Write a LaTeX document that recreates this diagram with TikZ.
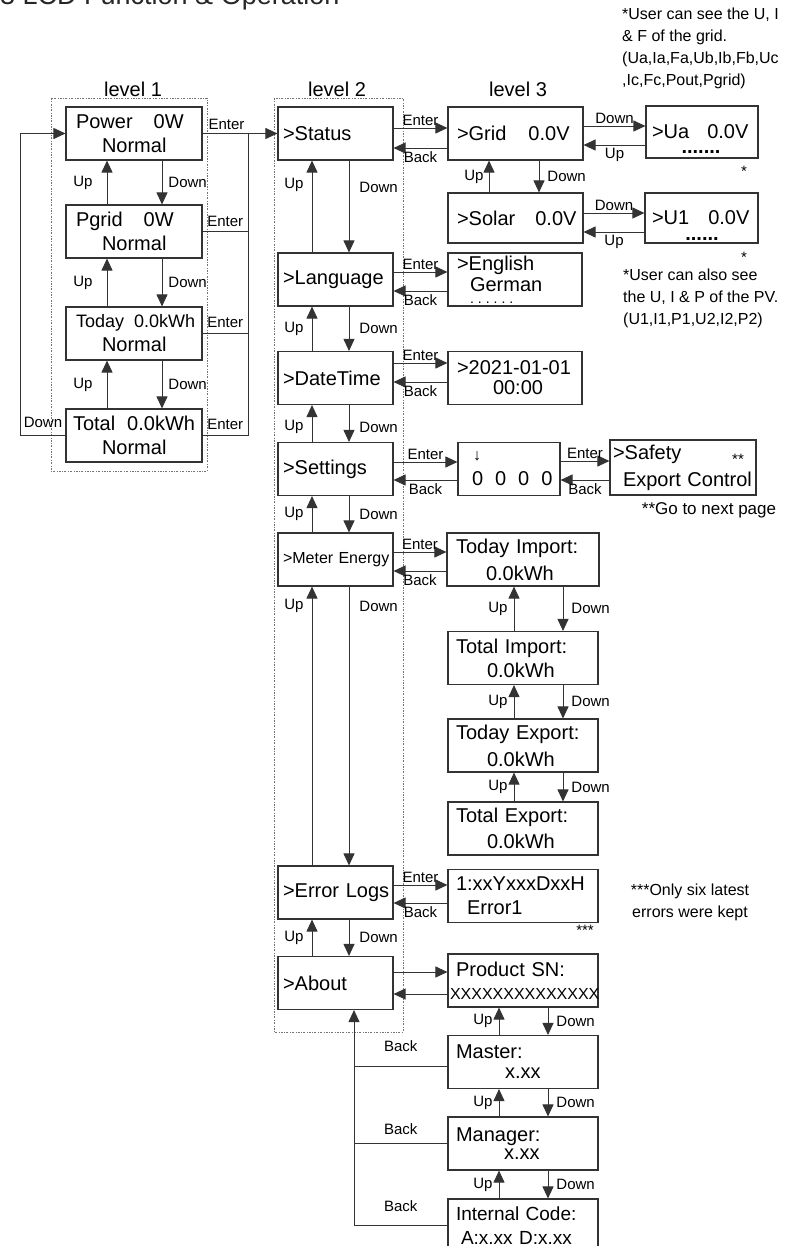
\documentclass[tikz,border=0pt]{standalone}
\usepackage{fontspec}
\setmainfont{Liberation Sans}
\usetikzlibrary{arrows.meta, calc}

\begin{document}
\begin{tikzpicture}[
    x=1pt, y=-1pt,
    line/.style={draw=black!80, line width=0.9pt},
    arrow/.style={line, -{Triangle[length=12pt,width=11pt]}},
    frame/.style={draw=black!55, line width=0.9pt, dash pattern=on 2pt off 1.5pt on 0.6pt off 1.5pt},
    scr/.style={draw=black!80, line width=1.1pt, rectangle, minimum height=53pt, inner ysep=0pt, align=left, font=\fontsize{20}{24}\selectfont},
    lvone/.style={scr, text width=116pt, inner xsep=10pt},
    menu/.style={scr, text width=105pt, inner xsep=5pt},
    sub/.style={scr, text width=134pt, inner xsep=8pt},
    lbl/.style={inner sep=0pt, font=\fontsize{15}{15}\selectfont},
    head/.style={inner sep=0pt, font=\fontsize{20}{20}\selectfont},
    note/.style={inner sep=0pt, align=left, font=\fontsize{16}{22}\selectfont},
    dots/.style={inner sep=0pt, font=\bfseries\fontsize{20}{20}\selectfont}
]
\useasboundingbox (0,0) rectangle (803,1246);

% page title, cut by the page edge
\node[anchor=base west, inner sep=0pt, font=\fontsize{27}{27}\selectfont, text=black!85] (title) at (0,5) {3 LCD Function \& Operation};

% level headings
\node[head] (lv1) at (133,89) {level 1};
\node[head] (lv2) at (337,89) {level 2};
\node[head] (lv3) at (518,89) {level 3};

% dotted frames
\draw[frame] (51,98) rectangle (207,471);
\draw[frame] (274,98) rectangle (403,1032);

% Level 1 screens
\node[lvone] (power) at (134,133.5) {\mbox{Power\hspace{21pt}0W}\\\hspace*{26pt}Normal};
\node[lvone] (pgrid) at (134,231.5) {\mbox{Pgrid\hspace{21pt}0W}\\\hspace*{26pt}Normal};
\node[lvone] (today) at (134,333.5) {\mbox{\fontsize{18}{24}\selectfont Today\hspace{10pt}0.0kWh}\\\hspace*{26pt}Normal};
\node[lvone] (total) at (134,435.5) {\mbox{\hspace*{-3pt}Total\hspace{12pt}0.0kWh}\\\hspace*{26pt}Normal};

% Level 2 menu
\node[menu] (status) at (335.5,133.5) {\mbox{>Status}};
\node[menu] (lang) at (335.5,279.5) {\mbox{>Language}};
\node[menu] (datetime) at (335.5,378) {\mbox{>DateTime}};
\node[menu] (settings) at (335.5,469) {\mbox{>Settings}};
\node[menu, font=\fontsize{16}{20}\selectfont] (meter) at (335.5,559.5) {\mbox{>Meter Energy}};
\node[menu] (errlog) at (335.5,892.5) {\mbox{>Error Logs}};
\node[menu] (about) at (335.5,983) {\mbox{>About}};

% Level 3 screens
\node[sub, text width=117pt, inner xsep=9pt] (grid) at (515.5,133.5) {\mbox{>Grid\hspace{22pt}0.0V}};
\node[sub, text width=100pt, inner xsep=6pt, minimum height=52pt] (ua) at (702,132) {\mbox{>Ua\hspace{18pt}0.0V}};
\node[sub, text width=117pt, inner xsep=9pt, minimum height=50pt] (solar) at (515.5,218) {\mbox{>Solar\hspace{20pt}0.0V}};
\node[sub, text width=99pt, inner xsep=7pt, minimum height=50pt] (uone) at (701.5,218) {\mbox{>U1\hspace{19pt}0.0V}};
\node[sub, text width=116pt, inner xsep=9pt] (english) at (515,279.5) {>English\\[-3pt]\hspace*{13pt}German\\[-12pt]\mbox{\hspace*{13pt}\fontsize{14}{14}\selectfont .\hspace{4pt}.\hspace{4pt}.\hspace{4pt}.\hspace{4pt}.\hspace{4pt}.}};
\node[sub, text width=116pt, inner xsep=9pt] (date) at (515,378) {>2021-01-01\\[-4pt]\hspace*{36pt}00:00};
\node[sub, text width=74pt, inner xsep=14pt] (pwd) at (509,469) {{\fontsize{16}{16}\selectfont\hspace*{1pt}↓}\\[1pt]\mbox{0\hspace{12pt}0\hspace{12pt}0\hspace{12pt}0}};
\node[sub, text width=140pt, inner xsep=3pt, minimum height=55pt] (safety) at (683,467.5) {>Safety\\[3pt]\mbox{\hspace*{10pt}Export Control}};
\node[sub, text width=134pt, inner xsep=9pt] (tdimp) at (523,559.5) {Today Import:\\[3pt]\hspace*{30pt}0.0kWh};
\node[sub] (ttimp) at (523,658) {Total Import:\\\hspace*{31pt}0.0kWh};
\node[sub] (tdexp) at (523,745.5) {Today Export:\\[3pt]\hspace*{31pt}0.0kWh};
\node[sub] (ttexp) at (523,828.5) {Total Export:\\[2pt]\hspace*{31pt}0.0kWh};
\node[sub] (errone) at (523,896) {1:xxYxxxDxxH\\\hspace*{11pt}Error1};
\node[sub] (prodsn) at (523,980.5) {Product SN:\\[-1pt]\mbox{\hspace*{-6pt}\fontsize{16}{16}\selectfont XXXXXXXXXXXXXX}};
\node[sub] (master) at (523,1062) {Master:\\[-4pt]\hspace*{49pt}x.xx};
\node[sub] (manager) at (523,1143.5) {Manager:\\[-6pt]\hspace*{48pt}x.xx};
\node[sub, font=\fontsize{19}{24}\selectfont] (intcode) at (523,1225.5) {Internal Code:\\\mbox{\hspace*{5pt}A:x.xx D:x.xx}};

% marks and dots
\node[dots] (uadots) at (701,152) {.......};
\node[dots] (uonedots) at (702,239) {......};
\node[lbl] (uastar) at (744,171) {*};
\node[lbl] (uonestar) at (744,257) {*};
\node[lbl] (safestar) at (738,459) {**};
\node[lbl] (errstar) at (585,930) {***};

% notes
\node[note, anchor=north west] (gridnote) at (622,8) {*User can see the U, I\\\& F of the grid.\\(Ua,Ia,Fa,Ub,Ib,Fb,Uc\\,Ic,Fc,Pout,Pgrid)};
\node[note, anchor=north west] (pvnote) at (623,269) {*User can also see\\the U, I \& P of the PV.\\(U1,I1,P1,U2,I2,P2)};
\node[note, font=\fontsize{17}{22}\selectfont] (nextnote) at (709,510) {**Go to next page};
\node[note, align=center] (errnote) at (690,902) {***Only six latest\\errors were kept};

% Level 1 moves
\draw[arrow] (pgrid.north -| 107,0) -- node[lbl,left=14pt]{Up} (power.south -| 107,0);
\draw[arrow] (power.south -| 162,0) -- node[lbl,right=6pt]{Down} (pgrid.north -| 162,0);
\draw[arrow] (today.north -| 107,0) -- node[lbl,left=14pt]{Up} (pgrid.south -| 107,0);
\draw[arrow] (pgrid.south -| 162,0) -- node[lbl,right=6pt]{Down} (today.north -| 162,0);
\draw[arrow] (total.north -| 107,0) -- node[lbl,left=14pt]{Up} (today.south -| 107,0);
\draw[arrow] (today.south -| 162,0) -- node[lbl,right=6pt]{Down} (total.north -| 162,0);
\draw[arrow] (total.west) -- node[lbl,above=7pt]{Down} ++(-45,0) |- (power.west);

% Level 1 -> Level 2
\coordinate (bus) at (248,133.5);
\draw[arrow] (power.east) -- node[lbl,above=3pt,pos=.32]{Enter} (status.west);
\draw[line] (pgrid.east) -- node[lbl,above=4pt]{Enter} (pgrid.east -| bus);
\draw[line] (today.east) -- node[lbl,above=5pt]{Enter} (today.east -| bus);
\draw[line] (total.east) -- node[lbl,above=5pt]{Enter} (total.east -| bus) -- (bus);

% Level 2 moves
\draw[arrow] (lang.north -| 312,0) -- node[lbl,left=8pt,pos=.73]{Up} (status.south -| 312,0);
\draw[arrow] (status.south -| 349,0) -- node[lbl,right=10pt,pos=.29]{Down} (lang.north -| 349,0);
\draw[arrow] (datetime.north -| 312,0) -- node[lbl,left=8pt]{Up} (lang.south -| 312,0);
\draw[arrow] (lang.south -| 349,0) -- node[lbl,right=10pt]{Down} (datetime.north -| 349,0);
\draw[arrow] (settings.north -| 312,0) -- node[lbl,left=8pt,pos=.4]{Up} (datetime.south -| 312,0);
\draw[arrow] (datetime.south -| 349,0) -- node[lbl,right=10pt,pos=.6]{Down} (settings.north -| 349,0);
\draw[arrow] (meter.north -| 312,0) -- node[lbl,left=8pt]{Up} (settings.south -| 312,0);
\draw[arrow] (settings.south -| 349,0) -- node[lbl,right=10pt]{Down} (meter.north -| 349,0);
\draw[arrow] (errlog.north -| 312,0) -- node[lbl,left=8pt,pos=.93]{Up} (meter.south -| 312,0);
\draw[arrow] (meter.south -| 349,0) -- node[lbl,right=10pt,pos=.07]{Down} (errlog.north -| 349,0);
\draw[arrow] (about.north -| 312,0) -- node[lbl,left=8pt]{Up} (errlog.south -| 312,0);
\draw[arrow] (errlog.south -| 349,0) -- node[lbl,right=10pt]{Down} (about.north -| 349,0);

% Level 2 <-> Level 3
\draw[arrow] (status.east |- 0,128) -- node[lbl,above=2pt]{Enter} (grid.west |- 0,128);
\draw[arrow] (grid.west |- 0,148) -- node[lbl,below=3pt]{Back} (status.east |- 0,148);
\draw[arrow] (lang.east |- 0,272) -- node[lbl,above=2pt]{Enter} (english.west |- 0,272);
\draw[arrow] (english.west |- 0,291) -- node[lbl,below=3pt]{Back} (lang.east |- 0,291);
\draw[arrow] (datetime.east |- 0,363) -- node[lbl,above=2pt]{Enter} (date.west |- 0,363);
\draw[arrow] (date.west |- 0,382) -- node[lbl,below=3pt]{Back} (datetime.east |- 0,382);
\draw[arrow] (settings.east |- 0,462) -- node[lbl,above=2pt]{Enter} (pwd.west |- 0,462);
\draw[arrow] (pwd.west |- 0,480) -- node[lbl,below=3pt]{Back} (settings.east |- 0,480);
\draw[arrow] (meter.east |- 0,552) -- node[lbl,above=2pt]{Enter} (tdimp.west |- 0,552);
\draw[arrow] (tdimp.west |- 0,571) -- node[lbl,below=3pt]{Back} (meter.east |- 0,571);
\draw[arrow] (errlog.east |- 0,885) -- node[lbl,above=2pt]{Enter} (errone.west |- 0,885);
\draw[arrow] (errone.west |- 0,903) -- node[lbl,below=3pt]{Back} (errlog.east |- 0,903);
\draw[arrow] (about.east |- 0,972) -- (prodsn.west |- 0,972);
\draw[arrow] (prodsn.west |- 0,994) -- (about.east |- 0,994);

% Level 3 sideways
\draw[arrow] (grid.east |- 0,126) -- node[lbl,above=2pt]{Down} (ua.west |- 0,126);
\draw[arrow] (ua.west |- 0,145) -- node[lbl,below=3pt]{Up} (grid.east |- 0,145);
\draw[arrow] (solar.east |- 0,213) -- node[lbl,above=2pt]{Down} (uone.west |- 0,213);
\draw[arrow] (uone.west |- 0,232) -- node[lbl,below=3pt]{Up} (solar.east |- 0,232);
\draw[arrow] (pwd.east |- 0,461) -- node[lbl,above=2pt]{Enter} (safety.west |- 0,461);
\draw[arrow] (safety.west |- 0,480) -- node[lbl,below=3pt]{Back} (pwd.east |- 0,480);

% Level 3 moves
\draw[arrow] (solar.north -| 489,0) -- node[lbl,left=5pt]{Up} (grid.south -| 489,0);
\draw[arrow] (grid.south -| 539,0) -- node[lbl,right=8pt]{Down} (solar.north -| 539,0);
\draw[arrow] (ttimp.north -| 514,0) -- node[lbl,left=6pt]{Up} (tdimp.south -| 514,0);
\draw[arrow] (tdimp.south -| 563,0) -- node[lbl,right=8pt]{Down} (ttimp.north -| 563,0);
\draw[arrow] (tdexp.north -| 514,0) -- node[lbl,left=6pt]{Up} (ttimp.south -| 514,0);
\draw[arrow] (ttimp.south -| 563,0) -- node[lbl,right=8pt]{Down} (tdexp.north -| 563,0);
\draw[arrow] (ttexp.north -| 514,0) -- node[lbl,left=6pt]{Up} (tdexp.south -| 514,0);
\draw[arrow] (tdexp.south -| 563,0) -- node[lbl,right=8pt]{Down} (ttexp.north -| 563,0);
\draw[arrow] (master.north -| 499,0) -- node[lbl,left=6pt]{Up} (prodsn.south -| 499,0);
\draw[arrow] (prodsn.south -| 548,0) -- node[lbl,right=8pt]{Down} (master.north -| 548,0);
\draw[arrow] (manager.north -| 499,0) -- node[lbl,left=6pt]{Up} (master.south -| 499,0);
\draw[arrow] (master.south -| 548,0) -- node[lbl,right=8pt]{Down} (manager.north -| 548,0);
\draw[arrow] (intcode.north -| 499,0) -- node[lbl,left=6pt]{Up} (manager.south -| 499,0);
\draw[arrow] (manager.south -| 548,0) -- node[lbl,right=8pt]{Down} (intcode.north -| 548,0);

% Back to About
\coordinate (backbus) at (354,0);
\draw[arrow] (intcode.west) -- node[lbl,above=13pt]{Back} (intcode.west -| backbus) -- (about.south -| backbus);
\draw[line] (master.west |- 0,1066) -- node[lbl,above=14pt]{Back} (backbus |- 0,1066);
\draw[line] (manager.west) -- node[lbl,above=8pt]{Back} (manager.west -| backbus);
\end{tikzpicture}
\end{document}
